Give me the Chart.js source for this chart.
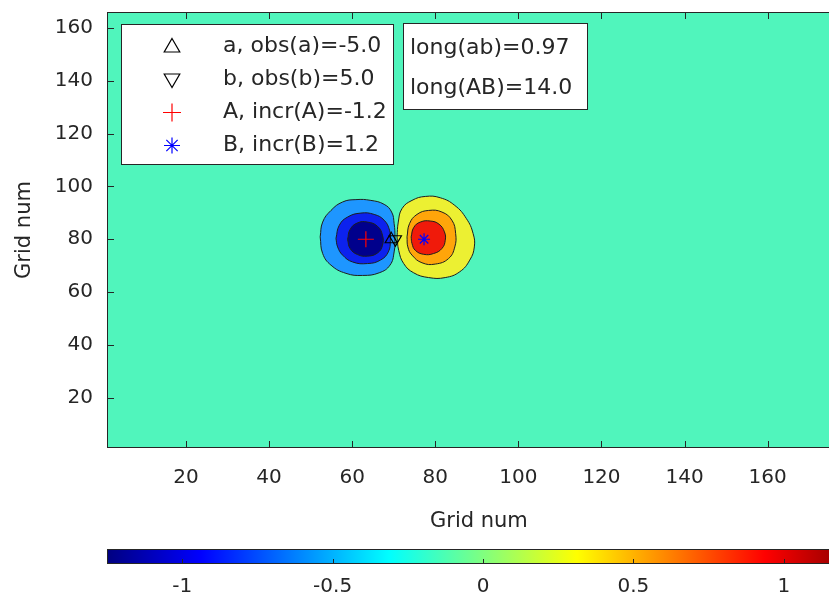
<!DOCTYPE html>
<html lang="en">
<head>
<meta charset="UTF-8">
<title>Increment field - Grid num</title>
<script src="https://cdn.jsdelivr.net/npm/chart.js"></script>
<style>
    html, body {
        margin: 0;
        padding: 0;
        overflow: hidden;
        background: #fff;
    }
    #wrap {
        position: relative;
        width: 829px;
        height: 601px;
        overflow: hidden;
    }
    #mainChart { position: absolute; left: 0; top: 0; }
    #barChart { position: absolute; left: 0; top: 540px; }
</style>
</head>
<body>
<div id="wrap">
    <canvas id="mainChart" width="860" height="540"></canvas>
    <canvas id="barChart" width="860" height="61"></canvas>
</div>

<script>
    // axes
    const xRange = [1, 180];
    const yRange = [1, 166];
    const xTicks = [20, 40, 60, 80, 100, 120, 140, 160, 180];
    const yTicks = [20, 40, 60, 80, 100, 120, 140, 160];
    const cbarRange = [-1.25, 1.25];
    const cbarTicks = [-1, -0.5, 0, 0.5, 1];

    // contour outlines (grid units)
    const negOuter = [[52.3, 80.9], [52.9, 86.5], [54.9, 90.9], [57.7, 94.1], [60.9, 95.0], [64.5, 94.7], [67.7, 93.2], [69.5, 90.3], [70.1, 85.9], [70.3, 80.9], [70.1, 75.2], [69.1, 70.2], [66.5, 67.3], [62.5, 66.3], [58.5, 67.1], [54.9, 70.2], [52.9, 74.6]];
    const negMid = [[56.1, 80.3], [56.9, 85.3], [58.9, 88.4], [62.1, 89.9], [65.3, 89.4], [67.7, 87.2], [69.0, 83.4], [69.2, 79.6], [68.7, 75.2], [66.8, 72.1], [63.7, 70.8], [60.1, 71.4], [57.7, 74.0], [56.5, 77.1]];
    const negInner = [[58.9, 79.9], [59.5, 83.7], [61.3, 86.2], [63.7, 86.5], [66.1, 84.9], [67.3, 81.5], [67.3, 77.7], [66.1, 74.8], [63.7, 73.6], [61.3, 74.2], [59.5, 76.5]];
    const posOuter = [[70.8, 80.9], [71.1, 86.5], [72.0, 91.6], [74.4, 94.7], [77.6, 96.2], [81.2, 95.7], [84.7, 92.8], [87.5, 87.8], [89.1, 82.2], [89.4, 77.1], [88.3, 72.1], [85.9, 67.7], [82.4, 65.5], [78.4, 65.5], [74.8, 67.3], [72.4, 70.8], [71.2, 75.8]];
    const posMid = [[73.2, 80.9], [73.8, 85.9], [75.6, 89.4], [78.4, 90.9], [81.6, 90.3], [84.0, 87.2], [84.9, 82.2], [84.7, 77.1], [83.2, 72.7], [80.0, 70.6], [76.8, 71.1], [74.4, 74.0], [73.4, 77.1]];
    const posInner = [[74.2, 80.9], [74.8, 84.4], [76.4, 86.5], [78.8, 86.9], [80.9, 85.7], [82.2, 82.8], [82.4, 79.6], [81.6, 76.5], [79.6, 74.6], [77.2, 74.3], [75.2, 75.8], [74.4, 78.4]];

    // observation and increment points
    const obsA = [69.4, 80];
    const obsB = [70.4, 80];
    const incrA = [63.3, 80];
    const incrB = [77.3, 80];

    const legendLabels = ['a, obs(a)=-5.0', 'b, obs(b)=5.0', 'A, incr(A)=-1.2', 'B, incr(B)=1.2'];
    const infoLines = ['long(ab)=0.97', 'long(AB)=14.0'];

    const textColor = '#262626';
    const lineColor = '#1e1e1e';
    const bgColor = '#50f5bc';
    const fontFamily = '"DejaVu Sans", sans-serif';
    const tickLen = 7;

    function ring(points, color, order) {
        const pts = points.concat([points[0]]).map(([x, y]) => ({ x, y }));
        return {
            type: 'line',
            data: pts,
            fill: 'shape',
            backgroundColor: color,
            borderColor: lineColor,
            borderWidth: 1,
            pointRadius: 0,
            tension: 0.45,
            order: order
        };
    }

    function marker(p, style, color, radius, rotation) {
        return {
            type: 'line',
            data: [{ x: p[0], y: p[1] }],
            showLine: false,
            pointStyle: style,
            pointRadius: radius,
            pointRotation: rotation || 0,
            pointBorderColor: color,
            pointBackgroundColor: 'rgba(0,0,0,0)',
            pointBorderWidth: 1.2,
            order: 0
        };
    }

    const legendMarkers = [
        { pointStyle: 'triangle', color: '#000', radius: 9, rotation: 0 },
        { pointStyle: 'triangle', color: '#000', radius: 9, rotation: 180 },
        { pointStyle: 'cross', color: '#ff0000', radius: 9, rotation: 0 },
        { pointStyle: 'star', color: '#0000ff', radius: 8, rotation: 0 }
    ];

    // keep the plot box exactly where the axes put it
    function noPad(s) {
        s.paddingLeft = 0;
        s.paddingRight = 0;
        s.paddingTop = 0;
        s.paddingBottom = 0;
    }

    const boxesPlugin = {
        id: 'boxes',
        beforeDatasetsDraw(chart) {
            const { ctx, chartArea: a } = chart;
            ctx.save();
            ctx.fillStyle = bgColor;
            ctx.fillRect(a.left, a.top, a.right - a.left, a.bottom - a.top);
            ctx.restore();
        },
        afterDraw(chart) {
            const { ctx, chartArea: a, scales: { x, y } } = chart;
            ctx.save();
            ctx.strokeStyle = textColor;
            ctx.lineWidth = 1;
            ctx.strokeRect(a.left + 0.5, a.top + 0.5, a.right - a.left - 1, a.bottom - a.top - 1);
            ctx.beginPath();
            x.ticks.forEach(t => {
                const px = Math.round(x.getPixelForValue(t.value)) + 0.5;
                ctx.moveTo(px, a.bottom); ctx.lineTo(px, a.bottom - tickLen);
                ctx.moveTo(px, a.top); ctx.lineTo(px, a.top + tickLen);
            });
            y.ticks.forEach(t => {
                const py = Math.round(y.getPixelForValue(t.value)) + 0.5;
                ctx.moveTo(a.left, py); ctx.lineTo(a.left + tickLen, py);
                ctx.moveTo(a.right, py); ctx.lineTo(a.right - tickLen, py);
            });
            ctx.stroke();

            // legend box
            const lx = a.left + 14, ly = a.top + 12;
            ctx.fillStyle = '#fff';
            ctx.fillRect(lx, ly, 273, 141);
            ctx.strokeStyle = textColor;
            ctx.strokeRect(lx + 0.5, ly + 0.5, 272, 140);
            ctx.font = '22px ' + fontFamily;
            ctx.textBaseline = 'middle';
            legendLabels.forEach((label, i) => {
                const rowY = ly + 22.5 + i * 33;
                const m = legendMarkers[i];
                ctx.strokeStyle = m.color;
                ctx.fillStyle = 'rgba(0,0,0,0)';
                ctx.lineWidth = 1.2;
                Chart.helpers.drawPoint(ctx, { pointStyle: m.pointStyle, radius: m.radius, rotation: m.rotation, borderWidth: 1.2 }, lx + 51, rowY + (m.pointStyle === 'triangle' ? (m.rotation ? -1 : 1) : 0));
                ctx.fillStyle = textColor;
                ctx.fillText(label, lx + 102, rowY);
            });

            // text box
            const bx = a.left + 296, by = a.top + 11;
            ctx.fillStyle = '#fff';
            ctx.fillRect(bx, by, 185, 87);
            ctx.strokeStyle = textColor;
            ctx.lineWidth = 1;
            ctx.strokeRect(bx + 0.5, by + 0.5, 184, 86);
            ctx.fillStyle = textColor;
            infoLines.forEach((line, i) => {
                ctx.fillText(line, bx + 7, by + 25 + i * 40);
            });
            ctx.restore();
        }
    };

    new Chart(document.getElementById('mainChart'), {
        type: 'line',
        data: {
            datasets: [
                ring(negOuter, '#1e96ff', 3),
                ring(negMid, '#0c22ee', 2),
                ring(negInner, '#00008c', 1),
                ring(posOuter, '#ecf032', 3),
                ring(posMid, '#ffa50a', 2),
                ring(posInner, '#f01a0a', 1),
                marker(obsA, 'triangle', '#000', 7, 0),
                marker(obsB, 'triangle', '#000', 7, 180),
                marker(incrA, 'cross', '#ff0000', 8, 0),
                marker(incrB, 'star', '#0000ff', 6, 0)
            ]
        },
        options: {
            responsive: false,
            animation: false,
            layout: { padding: { top: 12, right: 1, left: 0, bottom: 0 } },
            plugins: { legend: { display: false }, tooltip: { enabled: false } },
            scales: {
                x: {
                    type: 'linear',
                    min: xRange[0],
                    max: xRange[1],
                    afterBuildTicks: s => { s.ticks = xTicks.map(v => ({ value: v })); },
                    ticks: { padding: 18, color: textColor, font: { family: fontFamily, size: 20 }, maxRotation: 0, autoSkip: false },
                    grid: { display: false, drawTicks: false },
                    border: { display: false },
                    title: { display: true, text: 'Grid num', color: textColor, font: { family: fontFamily, size: 21 }, padding: { top: 0, bottom: 6 } },
                    afterFit: s => { s.height = 92; noPad(s); }
                },
                y: {
                    type: 'linear',
                    min: yRange[0],
                    max: yRange[1],
                    afterBuildTicks: s => { s.ticks = yTicks.map(v => ({ value: v })); },
                    ticks: { padding: 14, color: textColor, font: { family: fontFamily, size: 20 }, autoSkip: false },
                    grid: { display: false, drawTicks: false },
                    border: { display: false },
                    title: { display: true, text: 'Grid num', color: textColor, font: { family: fontFamily, size: 21 }, padding: { top: 12, bottom: 0 } },
                    afterFit: s => { s.width = 107; noPad(s); }
                }
            }
        },
        plugins: [boxesPlugin]
    });

    // colour bar
    const jetStops = [[0, '#000080'], [0.125, '#0000ff'], [0.375, '#00ffff'], [0.625, '#ffff00'], [0.875, '#ff0000'], [1, '#800000']];

    function jetGradient(chart) {
        const a = chart.chartArea;
        if (!a) return '#000';
        const g = chart.ctx.createLinearGradient(a.left, 0, a.right, 0);
        jetStops.forEach(([t, c]) => g.addColorStop(t, c));
        return g;
    }

    const cbarFrame = {
        id: 'cbarFrame',
        afterDraw(chart) {
            const { ctx, chartArea: a, scales: { x } } = chart;
            ctx.save();
            ctx.strokeStyle = textColor;
            ctx.lineWidth = 1;
            ctx.strokeRect(a.left + 0.5, a.top + 0.5, a.right - a.left - 1, a.bottom - a.top - 1);
            ctx.beginPath();
            x.ticks.forEach(t => {
                const px = Math.round(x.getPixelForValue(t.value)) + 0.5;
                ctx.moveTo(px, a.bottom); ctx.lineTo(px, a.bottom - 5);
            });
            ctx.stroke();
            ctx.restore();
        }
    };

    new Chart(document.getElementById('barChart'), {
        type: 'bar',
        data: {
            labels: ['colorbar'],
            datasets: [{
                data: [cbarRange],
                backgroundColor: c => jetGradient(c.chart),
                borderWidth: 0,
                barPercentage: 1,
                categoryPercentage: 1
            }]
        },
        options: {
            indexAxis: 'y',
            responsive: false,
            animation: false,
            layout: { padding: { left: 107, right: 1, top: 9, bottom: 0 } },
            plugins: { legend: { display: false }, tooltip: { enabled: false } },
            scales: {
                x: {
                    type: 'linear',
                    min: cbarRange[0],
                    max: cbarRange[1],
                    afterBuildTicks: s => { s.ticks = cbarTicks.map(v => ({ value: v })); },
                    ticks: { padding: 11, color: textColor, font: { family: fontFamily, size: 20 }, callback: v => String(v), autoSkip: false, maxRotation: 0 },
                    grid: { display: false, drawTicks: false },
                    border: { display: false },
                    afterFit: s => { s.height = 37; noPad(s); }
                },
                y: { display: false }
            }
        },
        plugins: [cbarFrame]
    });
</script>
</body>
</html>
